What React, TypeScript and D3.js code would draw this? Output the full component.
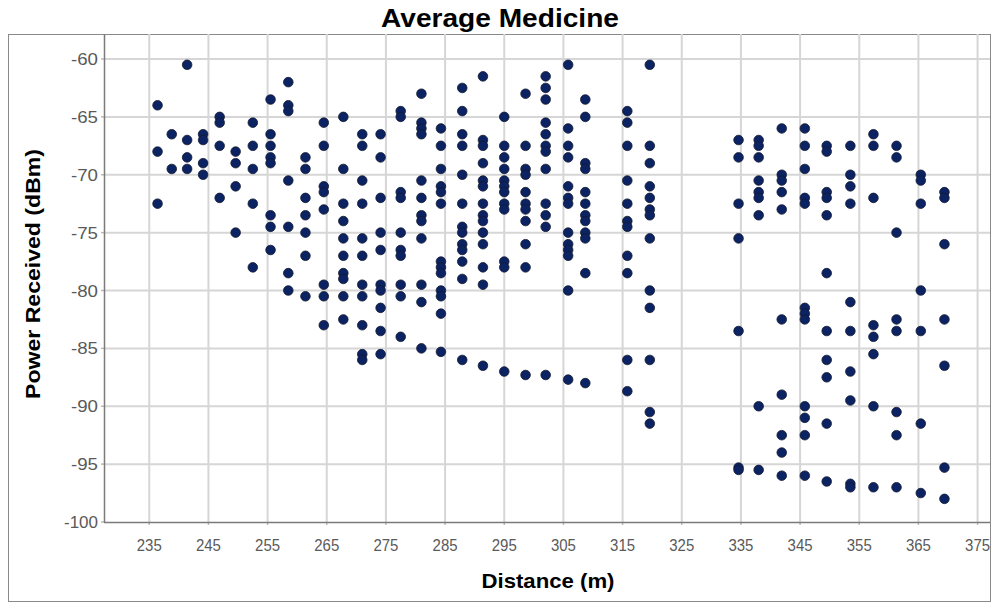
import * as d3 from "d3";
import React, { useEffect, useRef } from "react";

// distance columns (m) and the power readings (dBm) found at each one
const distances = [
  236.4, 238.8, 241.4, 244.1, 246.9, 249.6, 252.5, 255.5, 258.5, 261.4, 264.5,
  267.8, 271.0, 274.1, 277.5, 281.0, 284.3, 287.9, 291.4, 295.0, 298.6, 302.0,
  305.8, 308.7, 315.8, 319.6, 334.6, 338.0, 341.9, 345.8, 349.5, 353.5, 357.4,
  361.3, 365.4, 369.4,
];

const powerReadings = [
  [-64.0, -68.0, -72.5],
  [-66.5, -69.5],
  [-60.5, -67.0, -68.5, -69.5],
  [-66.5, -67.0, -69.0, -70.0],
  [-65.0, -65.5, -67.5, -72.0],
  [-68.0, -69.0, -71.0, -75.0],
  [-65.5, -67.5, -69.5, -72.5, -78.0],
  [-63.5, -66.5, -67.5, -68.5, -69.0, -73.5, -74.5, -76.5],
  [-62.0, -64.0, -64.5, -70.5, -74.5, -78.5, -80.0],
  [-68.5, -69.5, -72.0, -73.5, -75.0, -77.0, -80.5],
  [-65.5, -67.5, -71.0, -71.5, -73.0, -79.5, -80.5, -83.0],
  [-65.0, -69.5, -72.5, -74.0, -75.5, -77.0, -78.5, -79.0, -80.5, -82.5],
  [-66.5, -67.5, -70.5, -72.5, -75.5, -77.0, -79.5, -80.5, -83.0, -85.5, -86.0],
  [-66.5, -68.5, -72.0, -75.0, -76.5, -79.5, -80.0, -81.5, -83.5, -85.5],
  [-64.5, -65.0, -71.5, -72.0, -75.0, -76.5, -77.0, -79.5, -80.5, -84.0],
  [-63.0, -65.5, -66.0, -66.5, -70.5, -72.0, -73.5, -74.0, -75.5, -79.5, -81.0, -85.0],
  [-66.0, -67.5, -69.5, -71.0, -71.5, -72.5, -77.5, -78.0, -78.5, -80.0, -80.5, -82.0, -85.3],
  [-62.5, -64.5, -66.5, -67.5, -70.0, -72.5, -74.5, -75.0, -76.0, -76.5, -77.5, -79.0, -86.0],
  [-61.5, -67.0, -67.5, -69.0, -70.5, -71.0, -72.5, -73.5, -74.0, -75.0, -76.0, -78.0, -79.5, -86.5],
  [-65.0, -67.5, -68.5, -69.5, -70.5, -71.0, -71.5, -72.5, -73.0, -77.5, -78.0, -87.0],
  [-63.0, -67.5, -69.5, -70.0, -71.5, -72.5, -73.0, -74.0, -76.0, -78.0, -87.3],
  [-61.5, -62.5, -63.5, -65.5, -66.5, -67.5, -68.0, -69.5, -72.5, -73.5, -74.5, -87.3],
  [-60.5, -66.0, -67.5, -68.5, -71.0, -72.0, -72.5, -75.0, -76.0, -76.5, -77.0, -80.0, -87.7],
  [-63.5, -65.0, -69.0, -69.5, -71.5, -72.5, -73.5, -74.0, -75.0, -75.5, -78.5, -88.0],
  [-64.5, -65.5, -67.5, -70.5, -72.5, -74.0, -74.5, -77.0, -78.5, -86.0, -88.7],
  [-60.5, -67.5, -69.0, -71.0, -72.0, -73.0, -73.5, -75.5, -80.0, -81.5, -86.0, -90.5, -91.5],
  [-67.0, -68.5, -72.5, -75.5, -83.5, -95.3, -95.5],
  [-67.0, -67.5, -68.5, -70.5, -71.5, -72.0, -73.5, -90.0, -95.5],
  [-66.0, -70.0, -70.5, -71.5, -73.0, -82.5, -89.0, -92.5, -94.0, -96.0],
  [-66.0, -67.5, -69.5, -72.0, -72.5, -81.5, -82.0, -82.5, -90.0, -91.0, -92.5, -96.0],
  [-67.5, -68.0, -71.5, -72.0, -73.5, -78.5, -83.5, -86.0, -87.5, -91.5, -96.5],
  [-67.5, -70.0, -71.0, -72.5, -81.0, -83.5, -87.0, -89.5, -96.7, -97.0],
  [-66.5, -67.5, -72.0, -83.0, -84.0, -85.5, -90.0, -97.0],
  [-67.5, -68.5, -75.0, -82.5, -83.5, -90.5, -92.5, -97.0],
  [-70.0, -70.5, -72.5, -80.0, -83.5, -91.5, -97.5],
  [-71.5, -72.0, -76.0, -82.5, -86.5, -95.3, -98.0],
];

const xTickValues = [235, 245, 255, 265, 275, 285, 295, 305, 315, 325, 335, 345, 355, 365, 375];
const yTickValues = [-60, -65, -70, -75, -80, -85, -90, -95, -100];

const FONT = "'Liberation Sans', Arial, sans-serif";

const App = () => {
  const svgRef = useRef<SVGSVGElement>(null);

  useEffect(() => {
    const svg = d3.select(svgRef.current);
    svg.selectAll("*").remove();

    const plot = { left: 104, top: 34, right: 990, bottom: 522 };

    const x = d3.scaleLinear().domain([227.35, 377.1]).range([plot.left, plot.right]);
    const y = d3.scaleLinear().domain([-100, -57.84]).range([plot.bottom, plot.top]);

    const points = distances.flatMap((d, i) =>
      powerReadings[i].map((p) => ({ distance: d, power: p }))
    );

    // outer frame
    svg
      .append("rect")
      .attr("x", 8.5)
      .attr("y", 34.5)
      .attr("width", 982)
      .attr("height", 567)
      .attr("fill", "#fff")
      .attr("stroke", "#8a8a8a")
      .attr("stroke-width", 1);

    // grid
    svg
      .append("g")
      .selectAll("line")
      .data(xTickValues)
      .join("line")
      .attr("x1", (d) => x(d))
      .attr("x2", (d) => x(d))
      .attr("y1", plot.top)
      .attr("y2", plot.bottom)
      .attr("stroke", "#d6d6d6")
      .attr("stroke-width", 2);

    svg
      .append("g")
      .selectAll("line")
      .data(yTickValues.filter((d) => d !== -100))
      .join("line")
      .attr("x1", plot.left)
      .attr("x2", plot.right)
      .attr("y1", (d) => y(d))
      .attr("y2", (d) => y(d))
      .attr("stroke", "#d6d6d6")
      .attr("stroke-width", 2);

    // ticks
    svg
      .append("g")
      .selectAll("line")
      .data(yTickValues)
      .join("line")
      .attr("x1", plot.left - 3)
      .attr("x2", plot.left)
      .attr("y1", (d) => y(d))
      .attr("y2", (d) => y(d))
      .attr("stroke", "#bbb")
      .attr("stroke-width", 1.5);

    svg
      .append("g")
      .selectAll("line")
      .data(xTickValues)
      .join("line")
      .attr("x1", (d) => x(d))
      .attr("x2", (d) => x(d))
      .attr("y1", plot.bottom)
      .attr("y2", plot.bottom + 3)
      .attr("stroke", "#bbb")
      .attr("stroke-width", 1.5);

    // axis lines
    svg
      .append("line")
      .attr("x1", plot.left + 0.5)
      .attr("x2", plot.left + 0.5)
      .attr("y1", plot.top)
      .attr("y2", plot.bottom + 0.5)
      .attr("stroke", "#7a7a7a")
      .attr("stroke-width", 1.5);

    svg
      .append("line")
      .attr("x1", plot.left)
      .attr("x2", plot.right)
      .attr("y1", plot.bottom + 0.5)
      .attr("y2", plot.bottom + 0.5)
      .attr("stroke", "#7a7a7a")
      .attr("stroke-width", 1.5);

    // tick labels
    svg
      .append("g")
      .selectAll("text")
      .data(yTickValues)
      .join("text")
      .attr("x", 98)
      .attr("y", (d) => y(d) + 6)
      .attr("text-anchor", "end")
      .style("font-family", FONT)
      .style("font-size", "17px")
      .attr("textLength", (d) => (String(d).length > 3 ? 34 : 27))
      .attr("lengthAdjust", "spacingAndGlyphs")
      .attr("fill", "#5a5a5a")
      .text((d) => d);

    svg
      .append("g")
      .selectAll("text")
      .data(xTickValues)
      .join("text")
      .attr("x", (d) => x(d))
      .attr("y", 551)
      .attr("text-anchor", "middle")
      .style("font-family", FONT)
      .style("font-size", "17px")
      .attr("textLength", 25)
      .attr("lengthAdjust", "spacingAndGlyphs")
      .attr("fill", "#5a5a5a")
      .text((d) => d);

    // points
    svg
      .append("g")
      .selectAll("circle")
      .data(points)
      .join("circle")
      .attr("cx", (d) => x(d.distance))
      .attr("cy", (d) => y(d.power))
      .attr("r", 4.8)
      .attr("fill", "#0b2263")
      .attr("stroke", "#141a2e")
      .attr("stroke-width", 0.8);

    // titles
    svg
      .append("text")
      .attr("x", 500)
      .attr("y", 27)
      .attr("text-anchor", "middle")
      .style("font-family", FONT)
      .style("font-size", "25px")
      .style("font-weight", "bold")
      .attr("textLength", 238)
      .attr("lengthAdjust", "spacingAndGlyphs")
      .attr("fill", "#000")
      .text("Average Medicine");

    svg
      .append("text")
      .attr("x", 548)
      .attr("y", 588)
      .attr("text-anchor", "middle")
      .style("font-family", FONT)
      .style("font-size", "21px")
      .style("font-weight", "bold")
      .attr("textLength", 133)
      .attr("lengthAdjust", "spacingAndGlyphs")
      .attr("fill", "#000")
      .text("Distance (m)");

    svg
      .append("text")
      .attr("transform", "translate(40,274) rotate(-90)")
      .attr("text-anchor", "middle")
      .style("font-family", FONT)
      .style("font-size", "21px")
      .style("font-weight", "bold")
      .attr("textLength", 250)
      .attr("lengthAdjust", "spacingAndGlyphs")
      .attr("fill", "#000")
      .text("Power Received (dBm)");
  }, []);

  return (
    <svg
      ref={svgRef}
      width={993}
      height={602}
      style={{ position: "absolute", left: 0, top: 0, background: "#fff" }}
    ></svg>
  );
};

export default App;
